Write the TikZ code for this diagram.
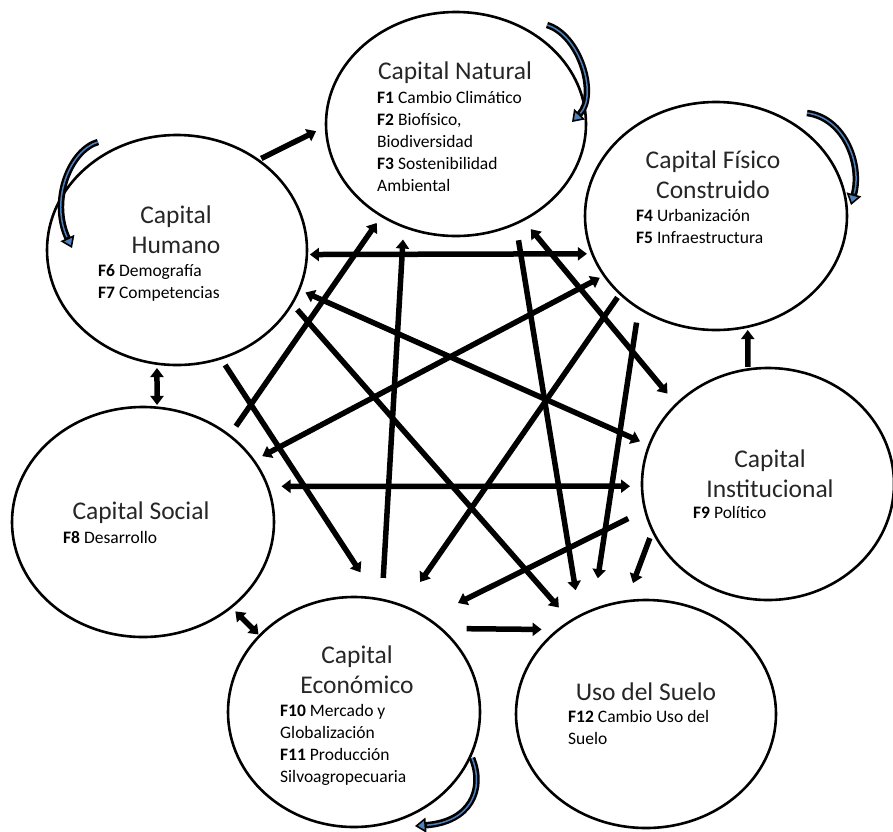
\documentclass[tikz,border=0pt]{standalone}
\usepackage{fontspec}
\setmainfont{Carlito}
\usetikzlibrary{arrows.meta,shapes.geometric}
\definecolor{azullazo}{RGB}{79,129,189}

\begin{document}
\begin{tikzpicture}[x=1pt,y=-1pt,
  capital/.style={ellipse, draw, line width=2.6pt, inner sep=0pt, outer sep=0pt},
  titulo/.style={font=\fontsize{25.5}{30}\selectfont, text=black!85, align=center, inner sep=0pt},
  factores/.style={font=\fontsize{17.5}{22}\selectfont, align=left, inner sep=0pt, anchor=north west},
  flecha/.style={line width=\grosor, -{Triangle[length=9pt,width=13pt]}},
  doble/.style={line width=\grosor, {Triangle[length=9pt,width=13pt]}-{Triangle[length=9pt,width=13pt]}},
  lazo/.style={line width=6.5pt, -{Triangle[length=11pt,width=15pt,fill=\collazo,line width=1.6pt]}},
  lazoint/.style={line width=1.5pt, draw=\collazo, shorten >=12pt}]

%Couleurs et epaisseurs
\def \collazo{azullazo}
\def \grosor{5.5pt}

\fill[white] (0,0) rectangle (893,831);
\useasboundingbox (0,0) rectangle (893,831);

%Capitales
\node[capital, minimum width=260pt, minimum height=224pt] (nat) at (456,124) {};
\node[capital, minimum width=262pt, minimum height=228pt] (fis) at (716,216) {};
\node[capital, minimum width=260pt, minimum height=230pt] (hum) at (177,250) {};
\node[capital, minimum width=262pt, minimum height=230pt] (soc) at (143,522) {};
\node[capital, minimum width=252pt, minimum height=230pt] (eco) at (354,712) {};
\node[capital, minimum width=260pt, minimum height=228pt] (uso) at (646,714) {};
\node[capital, minimum width=252pt, minimum height=232pt] (ins) at (768,484) {};

%Textos
\node[titulo] (nat-tit) at (455,73) {Capital Natural};
\node[factores] (nat-txt) at (377,91) {\textbf{F1} Cambio Climático\\\textbf{F2} Biofísico,\\Biodiversidad\\\textbf{F3} Sostenibilidad\\Ambiental};

\node[titulo] (fis-tit) at (713,175) {Capital Físico\\Construido};
\node[factores] (fis-txt) at (636,209) {\textbf{F4} Urbanización\\\textbf{F5} Infraestructura};

\node[titulo] (hum-tit) at (176,230) {Capital\\Humano};
\node[factores] (hum-txt) at (98,264) {\textbf{F6} Demografía\\\textbf{F7} Competencias};

\node[titulo] (soc-tit) at (141,513) {Capital Social};
\node[factores] (soc-txt) at (63,531) {\textbf{F8} Desarrollo};

\node[titulo] (eco-tit) at (357,670) {Capital\\Económico};
\node[factores] (eco-txt) at (280,704) {\textbf{F10} Mercado y\\Globalización\\\textbf{F11} Producción\\Silvoagropecuaria};

\node[titulo] (uso-tit) at (646,692) {Uso del Suelo};
\node[factores] (uso-txt) at (568,710) {\textbf{F12} Cambio Uso del\\Suelo};

\node[titulo] (ins-tit) at (770,474) {Capital\\Institucional};
\node[factores] (ins-txt) at (693,506) {\textbf{F9} Político};

%Flechas entre capitales
\draw[flecha, shorten <=3.7pt, shorten >=11pt] (hum.48) -- (nat.181);
\draw[doble, shorten <=3pt, shorten >=5.5pt] (hum.358) -- (fis.197);
\draw[flecha, shorten <=11.4pt, shorten >=8.6pt] (soc.45) -- (nat.231);
\draw[flecha, shorten <=22pt, shorten >=13pt] (eco.76) -- (nat.243);
\draw[flecha, shorten <=17pt, shorten >=26pt] (nat.301) -- (uso.124);
\draw[doble, shorten <=12pt, shorten >=14pt] (nat.305) -- (ins.139);
\draw[doble, shorten <=7pt, shorten >=10pt] (hum.342) -- (ins.162);
\draw[flecha, shorten <=8pt, shorten >=18pt] (hum.335) -- (uso.129);
\draw[doble, shorten <=5pt, shorten >=9.6pt] (fis.208) -- (soc.29);
\draw[flecha, shorten <=8pt, shorten >=32pt] (hum.292) -- (eco.78);
\draw[flecha, shorten <=4.6pt, shorten >=29.5pt] (fis.219) -- (eco.65);
\draw[doble, shorten <=14pt, shorten >=12pt] (soc.16) -- (ins.181);
\draw[flecha, shorten <=14.7pt, shorten >=32pt] (fis.230) -- (uso.117);
\draw[flecha, shorten <=19pt, shorten >=34.5pt] (ins.192) -- (eco.52);
\draw[flecha, shorten <=8pt, shorten >=19.5pt] (ins.202) -- (uso.100);
\draw[flecha, shorten <=26pt, shorten >=17pt] (eco.44) -- (uso.136);
\draw[flecha, shorten <=2.6pt, shorten >=3.4pt] (ins.100) -- (fis.286);
\draw[doble, shorten <=4.4pt, shorten >=2.7pt] (hum.260) -- (soc.83);
\draw[doble, shorten <=6pt, shorten >=1.7pt] (soc.316) -- (eco.141);

%Lazos sobre cada capital
\begin{scope}[shift={(nat.center)}]
\draw[lazo] (91,-99) .. controls (124,-89) and (142,-29) .. (116,-2);
\draw[lazoint] (91,-99) .. controls (124,-89) and (142,-29) .. (116,-2);
\end{scope}
\begin{scope}[shift={(fis.center)}]
\draw[lazo] (91,-103) .. controls (129,-98) and (146,-51) .. (135,-11);
\draw[lazoint] (91,-103) .. controls (129,-98) and (146,-51) .. (135,-11);
\end{scope}
\begin{scope}[shift={(hum.center)}]
\draw[lazo] (-79,-108) .. controls (-107,-100) and (-127,-50) .. (-105,-2);
\draw[lazoint] (-79,-108) .. controls (-107,-100) and (-127,-50) .. (-105,-2);
\end{scope}
\begin{scope}[shift={(eco.center)}]
\draw[lazo] (118,46) .. controls (131,78) and (116,110) .. (61,114);
\draw[lazoint] (118,46) .. controls (131,78) and (116,110) .. (61,114);
\end{scope}

\end{tikzpicture}
\end{document}
